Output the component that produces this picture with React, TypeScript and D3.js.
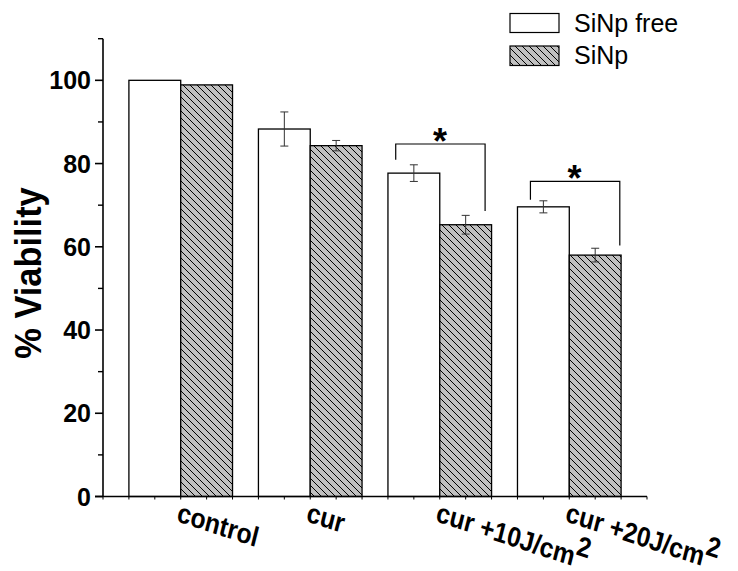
import React from "react";
import * as d3 from "d3";

const categories = ["control", "cur", "cur +10J/cm", "cur +20J/cm"];
const categorySup = ["", "", "2", "2"];
const seriesNames = ["SiNp free", "SiNp"];
const freeMeans = [100, 88.3, 77.7, 69.6];
const freeErr = [0, 4.1, 2.0, 1.45];
const npMeans = [98.9, 84.3, 65.3, 58.0];
const npErr = [0, 1.25, 2.25, 1.65];
const yMajorTicks = [0, 20, 40, 60, 80, 100];
const yMinorTicks = [10, 30, 50, 70, 90, 110];
// significance brackets: [xLeft, xRight, yTop, yLeftEnd, yRightEnd]
const sigLeftX = [2.66, 3.7];
const sigRightX = [3.35, 4.39];
const sigTopY = [84.7, 75.7];
const sigLeftEnd = [80.9, 71.3];
const sigRightEnd = [68.6, 60.3];

const W = 738;
const H = 571;
const FONT = "'Liberation Sans', Arial, Helvetica, sans-serif";

export default function App() {
  const x = d3.scaleLinear().domain([0.4, 4.6]).range([103, 647]);
  const y = d3.scaleLinear().domain([0, 110]).range([496.5, 38.7]);
  const barW = x(1.4) - x(1.0);
  const xMinor = d3.range(0.4, 4.61, 0.2);

  const errBar = (cx: number, m: number, e: number, key: string) => {
    if (!e) return null;
    const cap = 4;
    return (
      <g key={key} stroke="#333" strokeWidth={1}>
        <line x1={cx} x2={cx} y1={y(m + e)} y2={y(m - e)} />
        <line x1={cx - cap} x2={cx + cap} y1={y(m + e)} y2={y(m + e)} />
        <line x1={cx - cap} x2={cx + cap} y1={y(m - e)} y2={y(m - e)} />
      </g>
    );
  };

  return (
    <div style={{ position: "absolute", left: 0, top: 0 }}>
      <svg width={W} height={H} style={{ display: "block" }} fontFamily={FONT}>
        <defs>
          <pattern id="hatch" patternUnits="userSpaceOnUse" width={7} height={7}>
            <rect width={7} height={7} fill="#c0c0c0" />
            <path d="M-1,-1 L8,8 M-1,6 L1,8 M6,-1 L8,1" stroke="#000" strokeWidth={1} />
          </pattern>
        </defs>
        <rect width={W} height={H} fill="#fff" />

        {/* bars */}
        {categories.map((c, i) => {
          const g = i + 1;
          return (
            <g key={c}>
              <rect x={x(g - 0.4)} y={y(freeMeans[i])} width={barW} height={y(0) - y(freeMeans[i])}
                fill="#fff" stroke="#000" strokeWidth={1.3} />
              <rect x={x(g)} y={y(npMeans[i])} width={barW} height={y(0) - y(npMeans[i])}
                fill="url(#hatch)" stroke="#000" strokeWidth={1.3} />
              {errBar(x(g - 0.2), freeMeans[i], freeErr[i], "ef" + i)}
              {errBar(x(g + 0.2), npMeans[i], npErr[i], "en" + i)}
            </g>
          );
        })}

        {/* significance brackets */}
        {sigLeftX.map((lx, i) => {
          const x1 = x(lx);
          const x2 = x(sigRightX[i]);
          const yt = y(sigTopY[i]);
          const path = `M${x1},${y(sigLeftEnd[i])} L${x1},${yt} L${x2},${yt} L${x2},${y(sigRightEnd[i])}`;
          const fs = 36;
          return (
            <g key={"sig" + i}>
              <path d={path} fill="none" stroke="#000" strokeWidth={1.2} />
              <text x={(x1 + x2) / 2 - 0.5} y={yt + 10} fontSize={fs} fontWeight="bold"
                textAnchor="middle">*</text>
            </g>
          );
        })}

        {/* y axis */}
        <line x1={103} x2={103} y1={y(110)} y2={y(0)} stroke="#000" strokeWidth={1.6} />
        {yMajorTicks.map((t) => (
          <g key={"ym" + t}>
            <line x1={95} x2={103} y1={y(t)} y2={y(t)} stroke="#000" strokeWidth={1.6} />
            <text x={91} y={y(t) + 9} fontSize={25} fontWeight="bold" textAnchor="end">{t}</text>
          </g>
        ))}
        {yMinorTicks.map((t) => (
          <line key={"yn" + t} x1={98} x2={103} y1={y(t)} y2={y(t)} stroke="#000" strokeWidth={1.4} />
        ))}

        {/* x axis */}
        <line x1={95} x2={647} y1={y(0)} y2={y(0)} stroke="#000" strokeWidth={1.6} />
        {xMinor.map((t, i) => (
          <line key={"xt" + i} x1={x(t)} x2={x(t)} y1={y(0)} y2={y(0) + 3} stroke="#000" strokeWidth={1} />
        ))}
        {categories.map((c, i) => {
          const x0 = x(i + 1) - 5;
          const y0 = 521;
          return (
            <text key={"xl" + c} x={0} y={0} fontSize={28} fontWeight="bold"
              transform={`translate(${x0} ${y0}) scale(0.88 1) rotate(16)`}>
              {c}
              {categorySup[i] ? <tspan dy={-12} fontSize={28}>{categorySup[i]}</tspan> : null}
            </text>
          );
        })}

        {/* y label */}
        <text transform={`translate(41,273) rotate(-90) scale(0.93 1)`} fontSize={37} fontWeight="bold" textAnchor="middle">
          % Viability
        </text>

        {/* legend */}
        <rect x={510} y={13.5} width={49} height={19} fill="#fff" stroke="#000" strokeWidth={1.2} />
        <rect x={510} y={46} width={49} height={19.5} fill="url(#hatch)" stroke="#000" strokeWidth={1.2} />
        <text x={574} y={32} fontSize={25}>{seriesNames[0]}</text>
        <text x={574} y={64} fontSize={25}>{seriesNames[1]}</text>
      </svg>
    </div>
  );
}
